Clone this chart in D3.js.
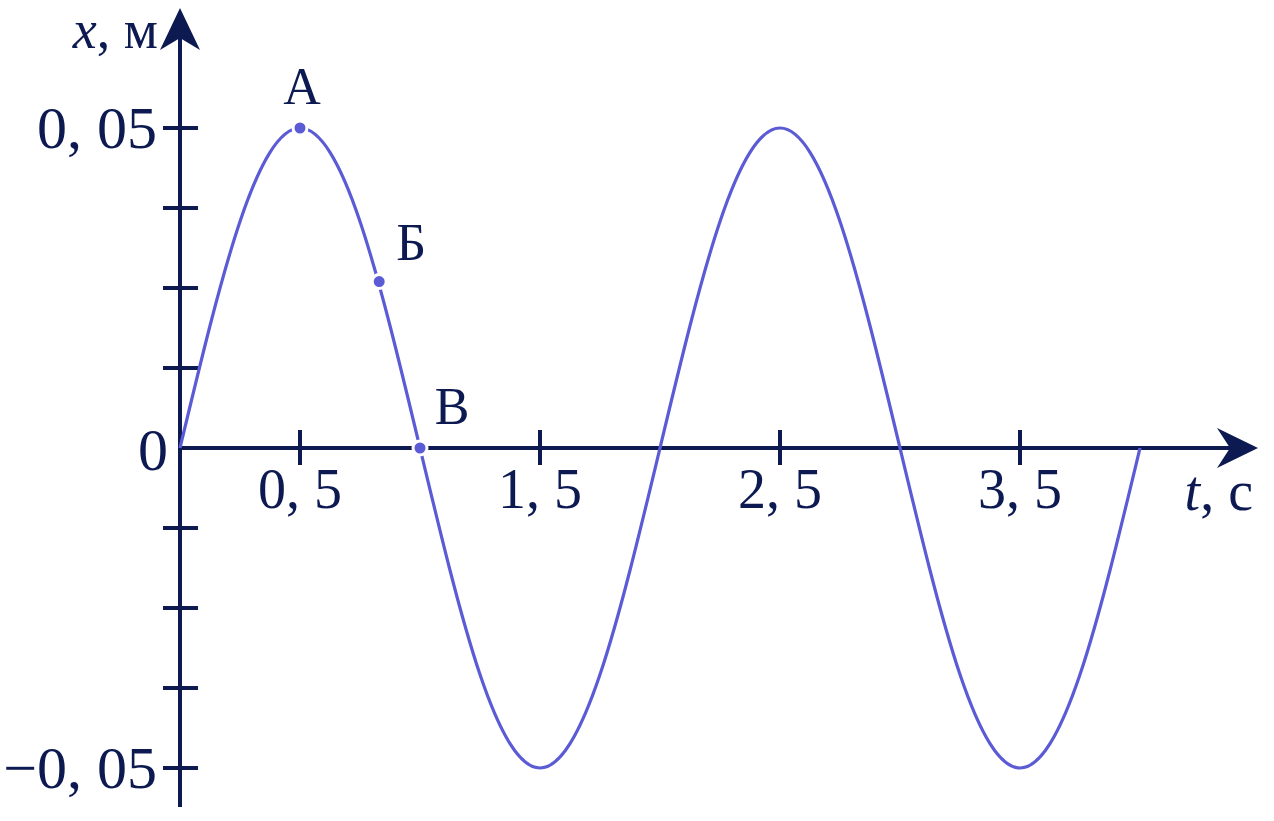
<!DOCTYPE html>
<html><head><meta charset="utf-8">
<script src="https://cdn.jsdelivr.net/npm/d3@7"></script>
<style>body{margin:0;background:#fff}svg{display:block}text{font-family:"Liberation Serif","DejaVu Serif",serif;fill:#0d1a52}</style>
</head><body>
<script>
// data
const tValues = [0,0.125,0.25,0.375,0.5,0.625,0.75,0.875,1,1.125,1.25,1.375,1.5,1.625,1.75,1.875,2,2.125,2.25,2.375,2.5,2.625,2.75,2.875,3,3.125,3.25,3.375,3.5,3.625,3.75,3.875,4];
const xValues = [0,0.0191,0.0354,0.0462,0.05,0.0462,0.0354,0.0191,0,-0.0191,-0.0354,-0.0462,-0.05,-0.0462,-0.0354,-0.0191,0,0.0191,0.0354,0.0462,0.05,0.0462,0.0354,0.0191,0,-0.0191,-0.0354,-0.0462,-0.05,-0.0462,-0.0354,-0.0191,0];
const pointNames = ["А","Б","В"];
const pointT = [0.5,0.83,1];
const pointX = [0.05,0.026,0];
const xTicks = [0.5,1.5,2.5,3.5];
const xTickLabels = ["0, 5","1, 5","2, 5","3, 5"];
const yTicks = [-0.05,-0.0375,-0.025,-0.0125,0.0125,0.025,0.0375,0.05];
const yTickLabels = [["0, 05",0.05],["0",0],["\u22120, 05",-0.05]];

const W=1274,H=821;
const ink="#0d1a52", curveCol="#5b5bd6";
const svg=d3.select("body").append("svg").attr("width",W).attr("height",H);
const xs=d3.scaleLinear().domain([0,4]).range([180,1140]);
const ys=d3.scaleLinear().domain([-0.05,0.05]).range([768,128]);

// axes lines
svg.append("line").attr("x1",xs(0)).attr("x2",1232).attr("y1",ys(0)).attr("y2",ys(0)).attr("stroke",ink).attr("stroke-width",4);
svg.append("line").attr("x1",xs(0)).attr("x2",xs(0)).attr("y1",807).attr("y2",38).attr("stroke",ink).attr("stroke-width",4);
// arrowheads
const x0=xs(0), y0=ys(0);
svg.append("path").attr("d",`M${x0},8 L${x0+20},50 L${x0},38 L${x0-20},50 Z`).attr("fill",ink);
svg.append("path").attr("d",`M1258,${y0} L1217,${y0-20} L1230,${y0} L1217,${y0+20} Z`).attr("fill",ink);

// ticks
svg.selectAll(".xt").data(xTicks).enter().append("line")
  .attr("x1",d=>xs(d)).attr("x2",d=>xs(d)).attr("y1",y0-18).attr("y2",y0+17)
  .attr("stroke",ink).attr("stroke-width",4);
svg.selectAll(".yt").data(yTicks).enter().append("line")
  .attr("x1",x0-17).attr("x2",x0+18).attr("y1",d=>ys(d)).attr("y2",d=>ys(d))
  .attr("stroke",ink).attr("stroke-width",4);

// tick labels
svg.selectAll(".xl").data(xTicks).enter().append("text")
  .attr("x",(d)=>xs(d)).attr("y",y0+60).attr("text-anchor","middle")
  .attr("font-size",56).text((d,i)=>xTickLabels[i]);
svg.selectAll(".yl").data(yTickLabels).enter().append("text")
  .attr("x",d=>d[1]===0?x0-12:x0-23).attr("y",d=>ys(d[1])+(d[1]===0?22:20)).attr("text-anchor","end")
  .attr("font-size",60).text(d=>d[0]);

// axis titles
const tx=svg.append("text").attr("x",158).attr("y",48).attr("text-anchor","end").attr("font-size",54);
tx.append("tspan").attr("font-style","italic").text("x");
tx.append("tspan").text(", м");
const tt=svg.append("text").attr("x",1253).attr("y",510).attr("text-anchor","end").attr("font-size",56);
tt.append("tspan").attr("font-style","italic").text("t");
tt.append("tspan").text(", с");

// curve
const line=d3.line().x((d,i)=>xs(tValues[i])).y(d=>ys(d)).curve(d3.curveNatural);
svg.append("path").datum(xValues).attr("d",line).attr("fill","none").attr("stroke",curveCol).attr("stroke-width",3.2);

// points
svg.selectAll(".pt").data(pointT).enter().append("circle")
  .attr("cx",d=>xs(d)).attr("cy",(d,i)=>ys(pointX[i])).attr("r",7)
  .attr("fill",curveCol).attr("stroke","#fff").attr("stroke-width",3);
const labOff=[[2,-24],[32,-22],[32,-24]];
svg.selectAll(".pl").data(pointNames).enter().append("text")
  .attr("x",(d,i)=>xs(pointT[i])+labOff[i][0]).attr("y",(d,i)=>ys(pointX[i])+labOff[i][1])
  .attr("text-anchor","middle").attr("font-size",52).text(d=>d);
</script>
</body></html>
